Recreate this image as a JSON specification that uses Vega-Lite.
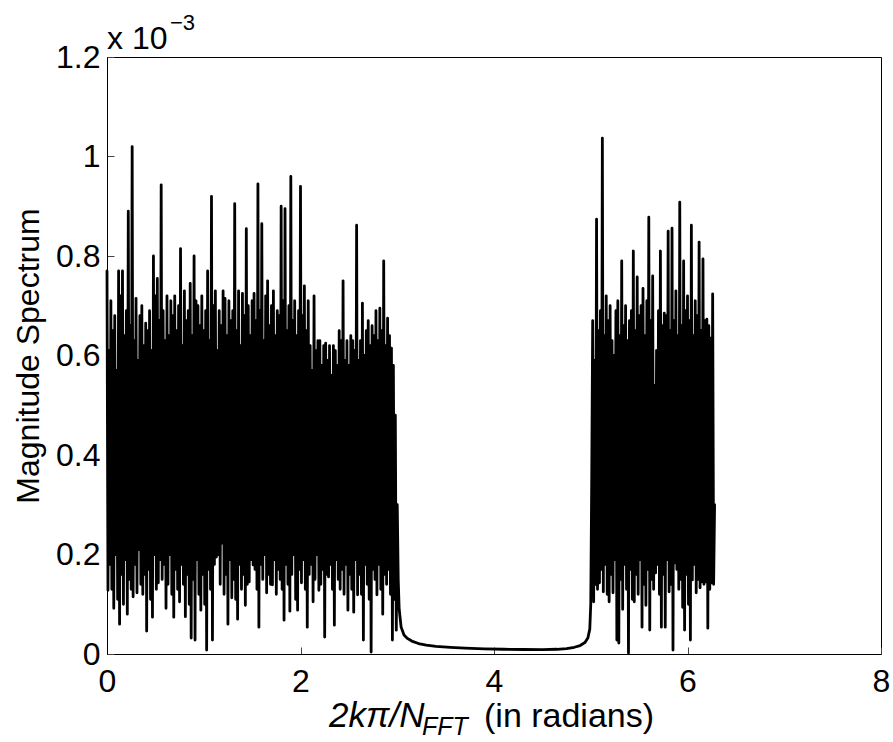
{
  "$schema": "https://vega.github.io/schema/vega-lite/v6.json",
  "width": 774,
  "height": 597,
  "autosize": {"type": "none"},
  "padding": {"left": 107, "top": 57, "right": 12, "bottom": 88},
  "background": "white",
  "config": {
    "view": {"stroke": "black", "strokeWidth": 1},
    "font": "Liberation Sans",
    "axis": {
      "grid": false,
      "domainColor": "black",
      "domainWidth": 1,
      "tickColor": "#444444",
      "tickWidth": 1,
      "tickSize": -7,
      "labelFlush": false,
      "labelFont": "Liberation Sans",
      "labelFontSize": 32,
      "labelColor": "black",
      "titleFont": "Liberation Sans",
      "titleFontSize": 32,
      "titleFontWeight": "normal",
      "titleColor": "black"
    }
  },
  "datasets": {
    "spectrum": [
      {"omega":0.00,"mag":7.7e-4},{"omega":0.01,"mag":1.28e-4},{"omega":0.02,"mag":6.1e-4},{"omega":0.03,"mag":1.8e-4},{"omega":0.04,"mag":7.1e-4},{"omega":0.05,"mag":1.3e-4},{"omega":0.06,"mag":6.5e-4},{"omega":0.07,"mag":0.92e-4},{"omega":0.08,"mag":6.8e-4},{"omega":0.09,"mag":2.0e-4},
      {"omega":0.10,"mag":5.7e-4},{"omega":0.11,"mag":1.1e-4},{"omega":0.12,"mag":7.7e-4},{"omega":0.13,"mag":0.6e-4},{"omega":0.14,"mag":7.2e-4},{"omega":0.15,"mag":1.6e-4},{"omega":0.16,"mag":7.7e-4},{"omega":0.17,"mag":1.0e-4},{"omega":0.18,"mag":6.4e-4},{"omega":0.19,"mag":1.9e-4},
      {"omega":0.20,"mag":6.9e-4},{"omega":0.21,"mag":0.8e-4},{"omega":0.22,"mag":8.9e-4},{"omega":0.23,"mag":1.5e-4},{"omega":0.24,"mag":6.6e-4},{"omega":0.25,"mag":1.3e-4},{"omega":0.26,"mag":10.2e-4},{"omega":0.27,"mag":1.15e-4},{"omega":0.28,"mag":6.3e-4},{"omega":0.29,"mag":1.8e-4},
      {"omega":0.30,"mag":7.15e-4},{"omega":0.31,"mag":1.23e-4},{"omega":0.32,"mag":5.9e-4},{"omega":0.33,"mag":2.1e-4},{"omega":0.34,"mag":6.8e-4},{"omega":0.35,"mag":1.4e-4},{"omega":0.36,"mag":7.0e-4},{"omega":0.37,"mag":1.2e-4},{"omega":0.38,"mag":6.2e-4},{"omega":0.39,"mag":1.6e-4},
      {"omega":0.40,"mag":6.65e-4},{"omega":0.41,"mag":0.46e-4},{"omega":0.42,"mag":6.5e-4},{"omega":0.43,"mag":1.7e-4},{"omega":0.44,"mag":6.9e-4},{"omega":0.45,"mag":1.1e-4},{"omega":0.46,"mag":6.1e-4},{"omega":0.47,"mag":0.74e-4},{"omega":0.48,"mag":8.0e-4},{"omega":0.49,"mag":2.0e-4},
      {"omega":0.50,"mag":7.2e-4},{"omega":0.51,"mag":1.3e-4},{"omega":0.52,"mag":7.55e-4},{"omega":0.53,"mag":1.43e-4},{"omega":0.54,"mag":6.7e-4},{"omega":0.55,"mag":1.9e-4},{"omega":0.56,"mag":9.43e-4},{"omega":0.57,"mag":1.5e-4},{"omega":0.58,"mag":6.9e-4},{"omega":0.59,"mag":1.8e-4},
      {"omega":0.60,"mag":6.3e-4},{"omega":0.61,"mag":0.92e-4},{"omega":0.62,"mag":7.2e-4},{"omega":0.63,"mag":1.4e-4},{"omega":0.64,"mag":6.4e-4},{"omega":0.65,"mag":2.0e-4},{"omega":0.66,"mag":7.1e-4},{"omega":0.67,"mag":1.2e-4},{"omega":0.68,"mag":6.8e-4},{"omega":0.69,"mag":0.74e-4},
      {"omega":0.70,"mag":7.2e-4},{"omega":0.71,"mag":1.7e-4},{"omega":0.72,"mag":6.5e-4},{"omega":0.73,"mag":1.3e-4},{"omega":0.74,"mag":7.0e-4},{"omega":0.75,"mag":1.05e-4},{"omega":0.76,"mag":8.15e-4},{"omega":0.77,"mag":1.8e-4},{"omega":0.78,"mag":6.2e-4},{"omega":0.79,"mag":1.4e-4},
      {"omega":0.80,"mag":7.3e-4},{"omega":0.81,"mag":0.75e-4},{"omega":0.82,"mag":6.7e-4},{"omega":0.83,"mag":1.6e-4},{"omega":0.84,"mag":6.9e-4},{"omega":0.85,"mag":1.0e-4},{"omega":0.86,"mag":7.45e-4},{"omega":0.87,"mag":0.32e-4},{"omega":0.88,"mag":6.4e-4},{"omega":0.89,"mag":1.5e-4},
      {"omega":0.90,"mag":8.0e-4},{"omega":0.91,"mag":0.28e-4},{"omega":0.92,"mag":7.1e-4},{"omega":0.93,"mag":1.9e-4},{"omega":0.94,"mag":7.0e-4},{"omega":0.95,"mag":1.2e-4},{"omega":0.96,"mag":6.6e-4},{"omega":0.97,"mag":0.88e-4},{"omega":0.98,"mag":7.2e-4},{"omega":0.99,"mag":1.6e-4},
      {"omega":1.00,"mag":6.5e-4},{"omega":1.01,"mag":1.0e-4},{"omega":1.02,"mag":6.9e-4},{"omega":1.03,"mag":0.08e-4},{"omega":1.04,"mag":7.7e-4},{"omega":1.05,"mag":1.7e-4},{"omega":1.06,"mag":6.3e-4},{"omega":1.07,"mag":1.3e-4},{"omega":1.08,"mag":9.2e-4},{"omega":1.09,"mag":0.28e-4},
      {"omega":1.10,"mag":7.0e-4},{"omega":1.11,"mag":1.8e-4},{"omega":1.12,"mag":7.3e-4},{"omega":1.13,"mag":1.95e-4},{"omega":1.14,"mag":6.1e-4},{"omega":1.15,"mag":2.0e-4},{"omega":1.16,"mag":6.9e-4},{"omega":1.17,"mag":1.4e-4},{"omega":1.18,"mag":6.6e-4},{"omega":1.19,"mag":2.23e-4},
      {"omega":1.20,"mag":7.3e-4},{"omega":1.21,"mag":1.2e-4},{"omega":1.22,"mag":7.15e-4},{"omega":1.23,"mag":1.6e-4},{"omega":1.24,"mag":6.4e-4},{"omega":1.25,"mag":0.6e-4},{"omega":1.26,"mag":7.1e-4},{"omega":1.27,"mag":1.9e-4},{"omega":1.28,"mag":6.7e-4},{"omega":1.29,"mag":1.13e-4},
      {"omega":1.30,"mag":6.9e-4},{"omega":1.31,"mag":1.5e-4},{"omega":1.32,"mag":9.05e-4},{"omega":1.33,"mag":1.1e-4},{"omega":1.34,"mag":6.5e-4},{"omega":1.35,"mag":0.7e-4},{"omega":1.36,"mag":7.3e-4},{"omega":1.37,"mag":1.8e-4},{"omega":1.38,"mag":6.2e-4},{"omega":1.39,"mag":1.3e-4},
      {"omega":1.40,"mag":7.25e-4},{"omega":1.41,"mag":1.6e-4},{"omega":1.42,"mag":6.8e-4},{"omega":1.43,"mag":0.98e-4},{"omega":1.44,"mag":8.55e-4},{"omega":1.45,"mag":1.4e-4},{"omega":1.46,"mag":7.0e-4},{"omega":1.47,"mag":1.45e-4},{"omega":1.48,"mag":6.4e-4},{"omega":1.49,"mag":1.9e-4},
      {"omega":1.50,"mag":7.1e-4},{"omega":1.51,"mag":1.79e-4},{"omega":1.52,"mag":7.25e-4},{"omega":1.53,"mag":1.7e-4},{"omega":1.54,"mag":6.7e-4},{"omega":1.55,"mag":1.3e-4},{"omega":1.56,"mag":9.45e-4},{"omega":1.57,"mag":0.54e-4},{"omega":1.58,"mag":6.9e-4},{"omega":1.59,"mag":1.8e-4},
      {"omega":1.60,"mag":8.65e-4},{"omega":1.61,"mag":1.5e-4},{"omega":1.62,"mag":6.3e-4},{"omega":1.63,"mag":2.0e-4},{"omega":1.64,"mag":7.2e-4},{"omega":1.65,"mag":1.23e-4},{"omega":1.66,"mag":7.5e-4},{"omega":1.67,"mag":1.6e-4},{"omega":1.68,"mag":6.6e-4},{"omega":1.69,"mag":1.4e-4},
      {"omega":1.70,"mag":7.0e-4},{"omega":1.71,"mag":1.39e-4},{"omega":1.72,"mag":7.3e-4},{"omega":1.73,"mag":1.9e-4},{"omega":1.74,"mag":6.4e-4},{"omega":1.75,"mag":1.2e-4},{"omega":1.76,"mag":6.9e-4},{"omega":1.77,"mag":1.7e-4},{"omega":1.78,"mag":6.8e-4},{"omega":1.79,"mag":1.5e-4},
      {"omega":1.80,"mag":9.0e-4},{"omega":1.81,"mag":1.3e-4},{"omega":1.82,"mag":7.1e-4},{"omega":1.83,"mag":0.68e-4},{"omega":1.84,"mag":8.95e-4},{"omega":1.85,"mag":1.8e-4},{"omega":1.86,"mag":6.5e-4},{"omega":1.87,"mag":1.4e-4},{"omega":1.88,"mag":7.0e-4},{"omega":1.89,"mag":0.86e-4},
      {"omega":1.90,"mag":9.6e-4},{"omega":1.91,"mag":1.6e-4},{"omega":1.92,"mag":6.7e-4},{"omega":1.93,"mag":2.0e-4},{"omega":1.94,"mag":7.1e-4},{"omega":1.95,"mag":1.1e-4},{"omega":1.96,"mag":6.4e-4},{"omega":1.97,"mag":0.88e-4},{"omega":1.98,"mag":6.9e-4},{"omega":1.99,"mag":1.7e-4},
      {"omega":2.00,"mag":9.4e-4},{"omega":2.01,"mag":1.43e-4},{"omega":2.02,"mag":6.8e-4},{"omega":2.03,"mag":1.9e-4},{"omega":2.04,"mag":7.4e-4},{"omega":2.05,"mag":1.3e-4},{"omega":2.06,"mag":6.5e-4},{"omega":2.07,"mag":0.54e-4},{"omega":2.08,"mag":7.1e-4},{"omega":2.09,"mag":1.6e-4},
      {"omega":2.10,"mag":6.2e-4},{"omega":2.11,"mag":1.8e-4},{"omega":2.12,"mag":5.7e-4},{"omega":2.13,"mag":1.05e-4},{"omega":2.14,"mag":7.2e-4},{"omega":2.15,"mag":1.5e-4},{"omega":2.16,"mag":6.1e-4},{"omega":2.17,"mag":2.0e-4},{"omega":2.18,"mag":6.3e-4},{"omega":2.19,"mag":1.28e-4},
      {"omega":2.20,"mag":6.3e-4},{"omega":2.21,"mag":1.4e-4},{"omega":2.22,"mag":5.8e-4},{"omega":2.23,"mag":1.7e-4},{"omega":2.24,"mag":6.2e-4},{"omega":2.25,"mag":0.34e-4},{"omega":2.26,"mag":6.25e-4},{"omega":2.27,"mag":1.6e-4},{"omega":2.28,"mag":5.9e-4},{"omega":2.29,"mag":1.55e-4},
      {"omega":2.30,"mag":6.2e-4},{"omega":2.31,"mag":1.8e-4},{"omega":2.32,"mag":5.6e-4},{"omega":2.33,"mag":1.3e-4},{"omega":2.34,"mag":6.2e-4},{"omega":2.35,"mag":0.58e-4},{"omega":2.36,"mag":6.1e-4},{"omega":2.37,"mag":1.9e-4},{"omega":2.38,"mag":5.8e-4},{"omega":2.39,"mag":1.5e-4},
      {"omega":2.40,"mag":6.5e-4},{"omega":2.41,"mag":1.3e-4},{"omega":2.42,"mag":6.3e-4},{"omega":2.43,"mag":1.7e-4},{"omega":2.44,"mag":7.5e-4},{"omega":2.45,"mag":1.2e-4},{"omega":2.46,"mag":5.9e-4},{"omega":2.47,"mag":1.8e-4},{"omega":2.48,"mag":6.3e-4},{"omega":2.49,"mag":0.88e-4},
      {"omega":2.50,"mag":5.8e-4},{"omega":2.51,"mag":1.6e-4},{"omega":2.52,"mag":6.4e-4},{"omega":2.53,"mag":1.3e-4},{"omega":2.54,"mag":6.3e-4},{"omega":2.55,"mag":0.84e-4},{"omega":2.56,"mag":6.1e-4},{"omega":2.57,"mag":1.9e-4},{"omega":2.58,"mag":8.62e-4},{"omega":2.59,"mag":1.19e-4},
      {"omega":2.60,"mag":5.9e-4},{"omega":2.61,"mag":1.6e-4},{"omega":2.62,"mag":6.3e-4},{"omega":2.63,"mag":1.2e-4},{"omega":2.64,"mag":7.05e-4},{"omega":2.65,"mag":0.28e-4},{"omega":2.66,"mag":6.0e-4},{"omega":2.67,"mag":1.8e-4},{"omega":2.68,"mag":6.5e-4},{"omega":2.69,"mag":1.4e-4},
      {"omega":2.70,"mag":6.7e-4},{"omega":2.71,"mag":1.1e-4},{"omega":2.72,"mag":6.2e-4},{"omega":2.73,"mag":0.04e-4},{"omega":2.74,"mag":6.6e-4},{"omega":2.75,"mag":1.7e-4},{"omega":2.76,"mag":6.4e-4},{"omega":2.77,"mag":1.5e-4},{"omega":2.78,"mag":6.9e-4},{"omega":2.79,"mag":1.19e-4},
      {"omega":2.80,"mag":6.3e-4},{"omega":2.81,"mag":1.8e-4},{"omega":2.82,"mag":6.95e-4},{"omega":2.83,"mag":1.3e-4},{"omega":2.84,"mag":6.5e-4},{"omega":2.85,"mag":0.8e-4},{"omega":2.86,"mag":7.9e-4},{"omega":2.87,"mag":1.6e-4},{"omega":2.88,"mag":6.2e-4},{"omega":2.89,"mag":1.4e-4},
      {"omega":2.90,"mag":6.75e-4},{"omega":2.91,"mag":1.7e-4},{"omega":2.92,"mag":6.4e-4},{"omega":2.93,"mag":1.2e-4},{"omega":2.94,"mag":6.15e-4},{"omega":2.95,"mag":0.28e-4},{"omega":2.96,"mag":5.8e-4},{"omega":2.97,"mag":1.1e-4},{"omega":2.98,"mag":4.8e-4},{"omega":2.99,"mag":0.48e-4},
      {"omega":3.00,"mag":3.0e-4},
      {"omega":3.01,"mag":1.5e-4},{"omega":3.02,"mag":0.9e-4},{"omega":3.04,"mag":0.54e-4},{"omega":3.07,"mag":0.38e-4},{"omega":3.10,"mag":0.32e-4},{"omega":3.15,"mag":0.26e-4},{"omega":3.22,"mag":0.21e-4},{"omega":3.30,"mag":0.18e-4},
      {"omega":3.40,"mag":0.155e-4},{"omega":3.55,"mag":0.135e-4},{"omega":3.70,"mag":0.12e-4},{"omega":3.90,"mag":0.105e-4},{"omega":4.10,"mag":0.095e-4},{"omega":4.30,"mag":0.09e-4},{"omega":4.50,"mag":0.088e-4},{"omega":4.65,"mag":0.095e-4},
      {"omega":4.75,"mag":0.11e-4},{"omega":4.83,"mag":0.135e-4},{"omega":4.89,"mag":0.17e-4},{"omega":4.94,"mag":0.23e-4},{"omega":4.97,"mag":0.32e-4},{"omega":4.99,"mag":0.5e-4},
      {"omega":5.00,"mag":1.0e-4},{"omega":5.01,"mag":3.5e-4},{"omega":5.02,"mag":6.7e-4},{"omega":5.03,"mag":1.05e-4},{"omega":5.04,"mag":5.9e-4},{"omega":5.05,"mag":1.4e-4},{"omega":5.06,"mag":8.74e-4},{"omega":5.07,"mag":1.3e-4},{"omega":5.08,"mag":6.5e-4},{"omega":5.09,"mag":1.43e-4},
      {"omega":5.10,"mag":6.9e-4},{"omega":5.11,"mag":1.7e-4},{"omega":5.12,"mag":10.37e-4},{"omega":5.13,"mag":1.25e-4},{"omega":5.14,"mag":6.4e-4},{"omega":5.15,"mag":1.8e-4},{"omega":5.16,"mag":7.2e-4},{"omega":5.17,"mag":1.2e-4},{"omega":5.18,"mag":6.7e-4},{"omega":5.19,"mag":1.05e-4},
      {"omega":5.20,"mag":7.0e-4},{"omega":5.21,"mag":1.6e-4},{"omega":5.22,"mag":6.3e-4},{"omega":5.23,"mag":1.23e-4},{"omega":5.24,"mag":6.0e-4},{"omega":5.25,"mag":1.9e-4},{"omega":5.26,"mag":6.9e-4},{"omega":5.27,"mag":0.28e-4},{"omega":5.28,"mag":7.1e-4},{"omega":5.29,"mag":0.22e-4},
      {"omega":5.30,"mag":6.4e-4},{"omega":5.31,"mag":1.5e-4},{"omega":5.32,"mag":7.9e-4},{"omega":5.33,"mag":0.9e-4},{"omega":5.34,"mag":6.6e-4},{"omega":5.35,"mag":1.8e-4},{"omega":5.36,"mag":7.0e-4},{"omega":5.37,"mag":1.3e-4},{"omega":5.38,"mag":6.3e-4},{"omega":5.39,"mag":0.02e-4},
      {"omega":5.40,"mag":6.7e-4},{"omega":5.41,"mag":1.7e-4},{"omega":5.42,"mag":6.9e-4},{"omega":5.43,"mag":1.1e-4},{"omega":5.44,"mag":8.1e-4},{"omega":5.45,"mag":1.05e-4},{"omega":5.46,"mag":6.5e-4},{"omega":5.47,"mag":1.6e-4},{"omega":5.48,"mag":7.58e-4},{"omega":5.49,"mag":1.2e-4},
      {"omega":5.50,"mag":6.8e-4},{"omega":5.51,"mag":1.9e-4},{"omega":5.52,"mag":7.0e-4},{"omega":5.53,"mag":0.54e-4},{"omega":5.54,"mag":7.35e-4},{"omega":5.55,"mag":1.4e-4},{"omega":5.56,"mag":6.4e-4},{"omega":5.57,"mag":0.98e-4},{"omega":5.58,"mag":7.1e-4},{"omega":5.59,"mag":1.7e-4},
      {"omega":5.60,"mag":8.78e-4},{"omega":5.61,"mag":0.48e-4},{"omega":5.62,"mag":6.7e-4},{"omega":5.63,"mag":1.5e-4},{"omega":5.64,"mag":7.6e-4},{"omega":5.65,"mag":1.3e-4},{"omega":5.66,"mag":5.4e-4},{"omega":5.67,"mag":1.63e-4},{"omega":5.68,"mag":6.1e-4},{"omega":5.69,"mag":1.8e-4},
      {"omega":5.70,"mag":6.9e-4},{"omega":5.71,"mag":1.2e-4},{"omega":5.72,"mag":8.1e-4},{"omega":5.73,"mag":0.54e-4},{"omega":5.74,"mag":6.6e-4},{"omega":5.75,"mag":1.6e-4},{"omega":5.76,"mag":6.85e-4},{"omega":5.77,"mag":0.54e-4},{"omega":5.78,"mag":6.8e-4},{"omega":5.79,"mag":1.9e-4},
      {"omega":5.80,"mag":8.5e-4},{"omega":5.81,"mag":1.25e-4},{"omega":5.82,"mag":6.5e-4},{"omega":5.83,"mag":1.4e-4},{"omega":5.84,"mag":8.56e-4},{"omega":5.85,"mag":0.08e-4},{"omega":5.86,"mag":6.7e-4},{"omega":5.87,"mag":1.83e-4},{"omega":5.88,"mag":7.3e-4},{"omega":5.89,"mag":1.7e-4},
      {"omega":5.90,"mag":6.4e-4},{"omega":5.91,"mag":1.3e-4},{"omega":5.92,"mag":9.08e-4},{"omega":5.93,"mag":1.5e-4},{"omega":5.94,"mag":6.6e-4},{"omega":5.95,"mag":0.94e-4},{"omega":5.96,"mag":7.9e-4},{"omega":5.97,"mag":0.48e-4},{"omega":5.98,"mag":6.9e-4},{"omega":5.99,"mag":1.6e-4},
      {"omega":6.00,"mag":7.2e-4},{"omega":6.01,"mag":1.0e-4},{"omega":6.02,"mag":6.7e-4},{"omega":6.03,"mag":0.28e-4},{"omega":6.04,"mag":8.62e-4},{"omega":6.05,"mag":1.49e-4},{"omega":6.06,"mag":6.4e-4},{"omega":6.07,"mag":1.8e-4},{"omega":6.08,"mag":7.1e-4},{"omega":6.09,"mag":1.23e-4},
      {"omega":6.10,"mag":6.8e-4},{"omega":6.11,"mag":1.5e-4},{"omega":6.12,"mag":8.28e-4},{"omega":6.13,"mag":1.33e-4},{"omega":6.14,"mag":6.5e-4},{"omega":6.15,"mag":1.45e-4},{"omega":6.16,"mag":7.94e-4},{"omega":6.17,"mag":1.4e-4},{"omega":6.18,"mag":6.7e-4},{"omega":6.19,"mag":1.45e-4},
      {"omega":6.20,"mag":6.73e-4},{"omega":6.21,"mag":0.52e-4},{"omega":6.22,"mag":6.6e-4},{"omega":6.23,"mag":1.3e-4},{"omega":6.24,"mag":6.35e-4},{"omega":6.25,"mag":1.43e-4},{"omega":6.26,"mag":7.24e-4},{"omega":6.27,"mag":1.4e-4},{"omega":6.28,"mag":3.0e-4}
    ]
  },
  "layer": [
    {
      "data": {"name": "spectrum"},
      "mark": {"type": "line", "color": "black", "strokeWidth": 2.8, "strokeJoin": "round", "strokeCap": "round"},
      "encoding": {
        "x": {
          "field": "omega", "type": "quantitative",
          "scale": {"domain": [0, 8], "nice": false},
          "axis": {"values": [0, 2, 4, 6, 8], "format": "~g", "title": null, "labelPadding": 19}
        },
        "y": {
          "field": "mag", "type": "quantitative",
          "scale": {"domain": [0, 0.0012], "nice": false},
          "axis": {
            "values": [0, 0.0002, 0.0004, 0.0006, 0.0008, 0.001, 0.0012],
            "labelExpr": "format(datum.value * 1000, '~g')",
            "title": "Magnitude Spectrum",
            "labelPadding": 14,
            "titlePadding": 10
          }
        }
      }
    },
    {
      "data": {"values": [{"label": "x 10"}]},
      "mark": {"type": "text", "align": "left", "baseline": "alphabetic", "fontSize": 32, "font": "Liberation Sans", "color": "black", "dy": -8},
      "encoding": {"x": {"datum": 0}, "y": {"datum": 0.0012}, "text": {"field": "label"}}
    },
    {
      "data": {"values": [{"label": "−3"}]},
      "mark": {"type": "text", "align": "left", "baseline": "alphabetic", "fontSize": 22, "font": "Liberation Sans", "color": "black", "dx": 63, "dy": -27},
      "encoding": {"x": {"datum": 0}, "y": {"datum": 0.0012}, "text": {"field": "label"}}
    },
    {
      "data": {"values": [{"label": "2kπ/N"}]},
      "mark": {"type": "text", "align": "left", "baseline": "alphabetic", "fontSize": 35, "fontStyle": "italic", "font": "Liberation Sans", "color": "black", "dx": -165, "dy": 73},
      "encoding": {"x": {"datum": 4}, "y": {"datum": 0}, "text": {"field": "label"}}
    },
    {
      "data": {"values": [{"label": "FFT"}]},
      "mark": {"type": "text", "align": "left", "baseline": "alphabetic", "fontSize": 25, "fontStyle": "italic", "font": "Liberation Sans", "color": "black", "dx": -72, "dy": 81},
      "encoding": {"x": {"datum": 4}, "y": {"datum": 0}, "text": {"field": "label"}}
    },
    {
      "data": {"values": [{"label": "(in radians)"}]},
      "mark": {"type": "text", "align": "left", "baseline": "alphabetic", "fontSize": 34, "font": "Liberation Sans", "color": "black", "dx": -10, "dy": 73},
      "encoding": {"x": {"datum": 4}, "y": {"datum": 0}, "text": {"field": "label"}}
    }
  ]
}
